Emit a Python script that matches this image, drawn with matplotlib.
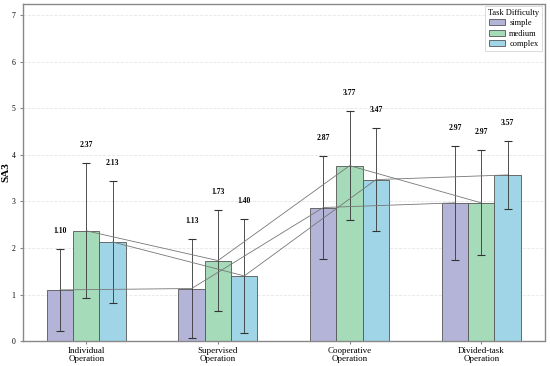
import numpy as np
import matplotlib.pyplot as plt

plt.rcParams['font.family'] = ['Liberation Serif', 'DejaVu Serif']

groups = ["Individual\nOperation", "Supervised\nOperation", "Cooperative\nOperation", "Divided-task\nOperation"]
levels = ["simple", "medium", "complex"]
colors = ["#b4b4d8", "#a6dbb9", "#9fd5e6"]

simple_mean = [1.10, 1.13, 2.87, 2.97]
medium_mean = [2.37, 1.73, 3.77, 2.97]
complex_mean = [2.13, 1.40, 3.47, 3.57]

simple_sd = [0.88, 1.07, 1.11, 1.22]
medium_sd = [1.45, 1.08, 1.17, 1.13]
complex_sd = [1.31, 1.22, 1.11, 0.73]

means = [simple_mean, medium_mean, complex_mean]
sds = [simple_sd, medium_sd, complex_sd]

fig, ax = plt.subplots(figsize=(5.5, 3.66), dpi=100)
x = np.arange(len(groups))
width = 0.2

for i, (lvl, m, s, col) in enumerate(zip(levels, means, sds, colors)):
    pos = x + (i - 1) * width
    ax.bar(pos, m, width, color=col, edgecolor="#555555", linewidth=0.6,
           label=lvl, zorder=2)
    ax.errorbar(pos, m, yerr=s, fmt="none", ecolor="#333333", elinewidth=0.6,
                capsize=3, capthick=0.8, zorder=3)
    # connect the same difficulty across operation modes
    ax.plot(pos, m, color="#777777", linewidth=0.6, zorder=4)
    for xp, mv, sv in zip(pos, m, s):
        ax.text(xp, mv + sv + 0.3, f"{mv:.2f}", ha="center", va="bottom",
                fontsize=5.5, fontweight="bold")

ax.set_ylim(0, 7.25)
ax.set_xticks(x)
ax.set_xticklabels(groups, fontsize=6.5, linespacing=1.0)
ax.tick_params(axis="y", labelsize=5.5, length=2, color="#888888")
ax.tick_params(axis="x", length=2, color="#888888", pad=2)
ax.set_ylabel("SA3", fontsize=8, fontweight="bold", labelpad=1)
ax.yaxis.grid(True, linestyle="--", color="#e6e6e6", linewidth=0.6, zorder=0)
ax.set_axisbelow(True)
for sp in ax.spines.values():
    sp.set_color("#888888")
    sp.set_linewidth(1.0)

leg = ax.legend(title="Task Difficulty", loc="upper right", fontsize=6,
                title_fontsize=6, frameon=True, fancybox=False,
                handlelength=1.9, handleheight=0.7, handletextpad=0.5,
                borderpad=0.35, labelspacing=0.3, borderaxespad=0.25)
leg.get_frame().set_edgecolor("#cccccc")
leg.get_frame().set_linewidth(0.6)

plt.subplots_adjust(left=0.042, right=0.99, top=0.99, bottom=0.068)
plt.savefig("out.png", dpi=100)
